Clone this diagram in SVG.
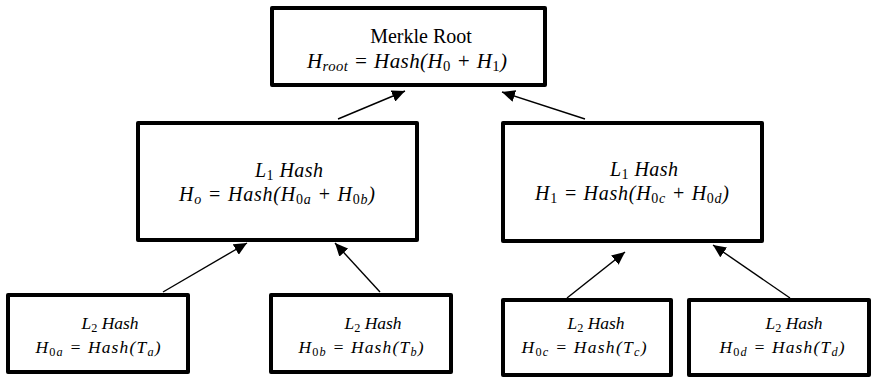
<svg xmlns="http://www.w3.org/2000/svg" width="872" height="379" viewBox="0 0 872 379">
<style>
.box{fill:#fff;stroke:#000;stroke-width:4;stroke-linejoin:round}
text{fill:#000;text-anchor:middle}
.m{font-style:italic}
.up{font-style:normal}
.sub{font-size:70%;baseline-shift:-22%}
.r{font-size:20px}
.r2{font-size:21px}
.l1{font-size:20px}
.l2{font-size:17.5px}
.c{stroke:#000;stroke-width:1.4;fill:none;marker-end:url(#ah)}
</style>
<defs>
<marker id="ah" markerUnits="userSpaceOnUse" markerWidth="14" markerHeight="12" refX="13" refY="6" orient="auto">
<path d="M0,0 L13,6 L0,12 Z" fill="#000"/>
</marker>
</defs>
<g id="connectors">
<line class="c" x1="338" y1="119" x2="405" y2="91"/>
<line class="c" x1="585" y1="119" x2="502" y2="92"/>
<line class="c" x1="163" y1="292" x2="247" y2="243"/>
<line class="c" x1="380" y1="292" x2="335" y2="243"/>
<line class="c" x1="567" y1="298" x2="625" y2="252"/>
<line class="c" x1="790" y1="298" x2="713" y2="245"/>
</g>
<g font-family="Liberation Serif, Times New Roman, serif">
<g id="root">
<rect class="box" x="272" y="8" width="273" height="77"/>
<text class="r" x="421" y="43">Merkle Root</text>
<text class="r2 m" x="407" y="68" textLength="200">H<tspan class="sub">root</tspan> = Hash(H<tspan class="sub up">0</tspan> + H<tspan class="sub up">1</tspan>)</text>
</g>
<g id="l1-left">
<rect class="box" x="138" y="123" width="279" height="117"/>
<text class="l1 m" x="289" y="177" textLength="68">L<tspan class="sub up">1</tspan> Hash</text>
<text class="l1 m" x="277" y="201" textLength="196">H<tspan class="sub">o</tspan> = Hash(H<tspan class="sub"><tspan class="up">0</tspan>a</tspan> + H<tspan class="sub"><tspan class="up">0</tspan>b</tspan>)</text>
</g>
<g id="l1-right">
<rect class="box" x="503" y="123" width="259" height="118"/>
<text class="l1 m" x="644" y="176" textLength="68">L<tspan class="sub up">1</tspan> Hash</text>
<text class="l1 m" x="632" y="200" textLength="194">H<tspan class="sub up">1</tspan> = Hash(H<tspan class="sub"><tspan class="up">0</tspan>c</tspan> + H<tspan class="sub"><tspan class="up">0</tspan>d</tspan>)</text>
</g>
<g id="l2-a">
<rect class="box" x="8" y="295" width="180" height="77"/>
<text class="l2 m" x="110" y="329">L<tspan class="sub up">2</tspan> Hash</text>
<text class="l2 m" x="98" y="353" textLength="125">H<tspan class="sub"><tspan class="up">0</tspan>a</tspan> = Hash(T<tspan class="sub">a</tspan>)</text>
</g>
<g id="l2-b">
<rect class="box" x="271" y="295" width="180" height="77"/>
<text class="l2 m" x="373" y="329">L<tspan class="sub up">2</tspan> Hash</text>
<text class="l2 m" x="361" y="353" textLength="125">H<tspan class="sub"><tspan class="up">0</tspan>b</tspan> = Hash(T<tspan class="sub">b</tspan>)</text>
</g>
<g id="l2-c">
<rect class="box" x="503" y="300" width="168" height="75"/>
<text class="l2 m" x="596" y="329">L<tspan class="sub up">2</tspan> Hash</text>
<text class="l2 m" x="584" y="353" textLength="125">H<tspan class="sub"><tspan class="up">0</tspan>c</tspan> = Hash(T<tspan class="sub">c</tspan>)</text>
</g>
<g id="l2-d">
<rect class="box" x="689" y="300" width="180" height="75"/>
<text class="l2 m" x="794" y="329">L<tspan class="sub up">2</tspan> Hash</text>
<text class="l2 m" x="782" y="353" textLength="125">H<tspan class="sub"><tspan class="up">0</tspan>d</tspan> = Hash(T<tspan class="sub">d</tspan>)</text>
</g>
</g>
</svg>
